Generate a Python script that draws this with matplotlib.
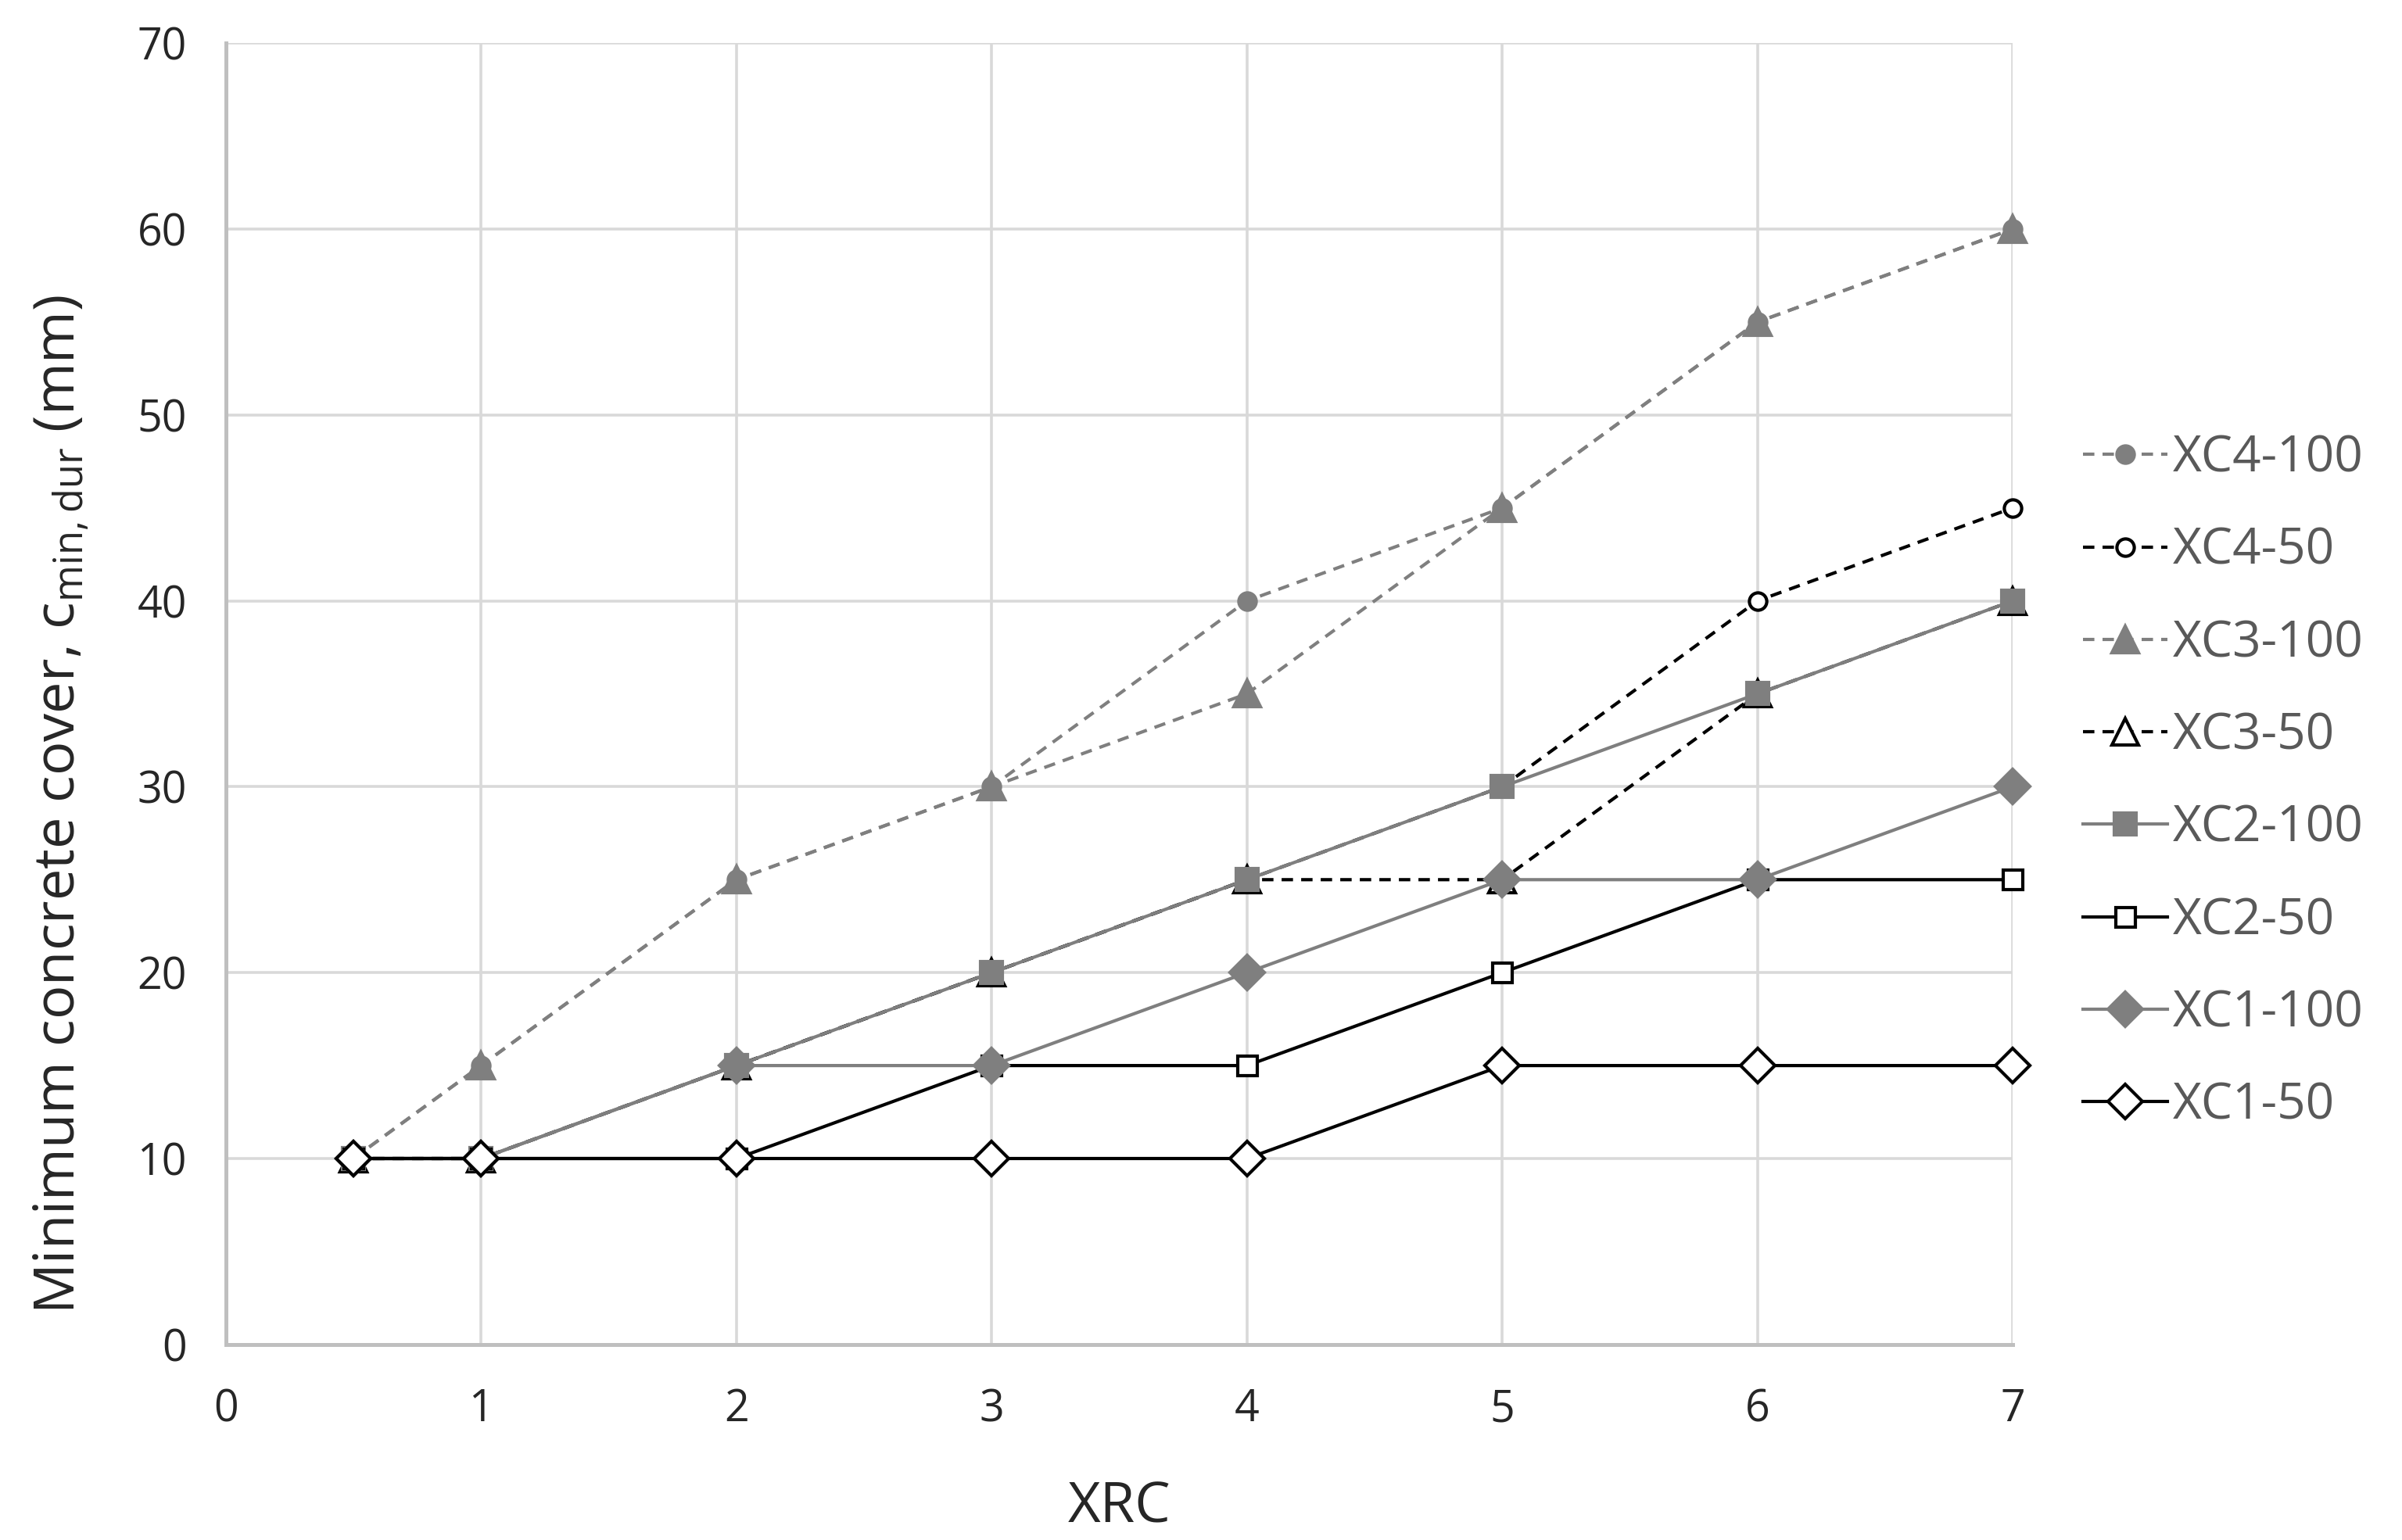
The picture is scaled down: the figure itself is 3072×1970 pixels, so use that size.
import matplotlib
matplotlib.use("Agg")
import matplotlib.pyplot as plt

plt.rcParams["font.family"] = ["Open Sans", "DejaVu Sans"]

xrc = [0.5, 1, 2, 3, 4, 5, 6, 7]

xc4_100 = [10, 15, 25, 30, 40, 45, 55, 60]
xc4_50 = [10, 10, 15, 20, 25, 30, 40, 45]
xc3_100 = [10, 15, 25, 30, 35, 45, 55, 60]
xc3_50 = [10, 10, 15, 20, 25, 25, 35, 40]
xc2_100 = [10, 10, 15, 20, 25, 30, 35, 40]
xc2_50 = [10, 10, 10, 15, 15, 20, 25, 25]
xc1_100 = [10, 10, 15, 15, 20, 25, 25, 30]
xc1_50 = [10, 10, 10, 10, 10, 15, 15, 15]

GREY = "#7f7f7f"
dash = (0, (3.5, 2.5))

series = [
    ("XC4-100", xc4_100, GREY, dash, "o", GREY, 8),
    ("XC4-50", xc4_50, "black", dash, "o", "white", 8),
    ("XC3-100", xc3_100, GREY, dash, "^", GREY, 12),
    ("XC3-50", xc3_50, "black", dash, "^", "white", 12),
    ("XC2-100", xc2_100, GREY, "-", "s", GREY, 10),
    ("XC2-50", xc2_50, "black", "-", "s", "white", 9),
    ("XC1-100", xc1_100, GREY, "-", "D", GREY, 11),
    ("XC1-50", xc1_50, "black", "-", "D", "white", 11),
]

fig = plt.figure(figsize=(15.36, 9.85), dpi=200)
ax = fig.add_axes([0.094, 0.127, 0.744, 0.845])

for label, ys, col, ls, mk, mfc, ms in series:
    ax.plot(xrc, ys, color=col, linestyle=ls, linewidth=1.5,
            marker=mk, markersize=ms, markerfacecolor=mfc,
            markeredgecolor=col, markeredgewidth=1.5, label=label,
            clip_on=False, zorder=3)

ax.set_xlim(0, 7)
ax.set_ylim(0, 70)
ax.set_xticks(range(0, 8))
ax.set_yticks(range(0, 71, 10))
ax.grid(True, color="#d9d9d9", linewidth=1.3)
ax.set_axisbelow(True)
for side in ("top", "right"):
    ax.spines[side].set_visible(False)
for side in ("left", "bottom"):
    ax.spines[side].set_color("#bfbfbf")
    ax.spines[side].set_linewidth(1.8)
ax.tick_params(length=0, labelsize=20, colors="#262626")
ax.tick_params(axis="x", pad=20)
ax.tick_params(axis="y", pad=18)

ax.set_xlabel("XRC", fontsize=26, color="#262626", labelpad=22)
ax.set_ylabel(r"Minimum concrete cover, c$_{\mathregular{min,dur}}$ (mm)",
              fontsize=26, color="#262626")
ax.yaxis.set_label_coords(-0.075, 0.415)

leg = ax.legend(loc="center left", bbox_to_anchor=(1.0, 0.432), frameon=False,
                fontsize=23, labelcolor="#595959", handlelength=1.7,
                handletextpad=0.1, labelspacing=0.85, borderaxespad=1.0)

fig.savefig("out.png", dpi=200)
